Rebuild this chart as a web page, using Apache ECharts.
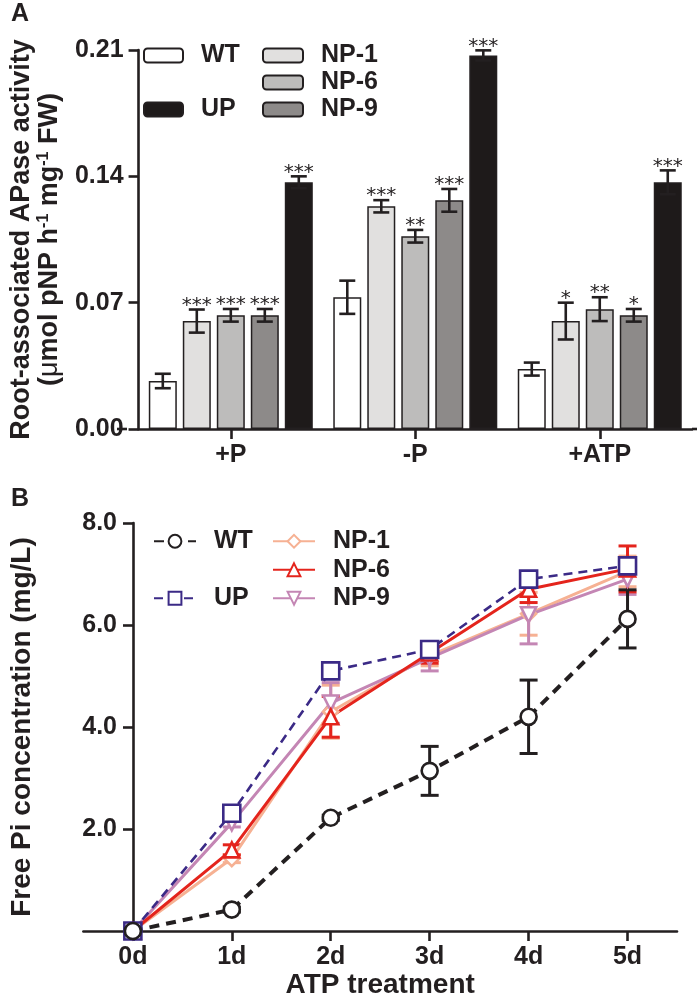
<!DOCTYPE html>
<html><head><meta charset="utf-8">
<script src="https://cdn.jsdelivr.net/npm/echarts@6.0.0/dist/echarts.min.js"></script>
<style>html,body{margin:0;padding:0;background:#fff;}#c{width:700px;height:1001px;}</style>
</head><body><div id="c"></div>
<script>
// ---------- Panel A data ----------
const catsA = ['+P', '-P', '+ATP'];
const wtA   = [0.0266, 0.0730, 0.0332];
const wtAErr = [0.0040, 0.0092, 0.0036];
const np1A  = [0.0598, 0.1234, 0.0598];
const np1AErr = [0.0064, 0.0034, 0.0102];
const np6A  = [0.0630, 0.1068, 0.0664];
const np6AErr = [0.0035, 0.0035, 0.0066];
const np9A  = [0.0630, 0.1267, 0.0630];
const np9AErr = [0.0035, 0.0063, 0.0035];
const upA   = [0.1367, 0.2070, 0.1367];
const upAErr = [0.0033, 0.0028, 0.0066];
const starsNp1 = ['***', '***', '*'];
const starsNp6 = ['***', '**', '**'];
const starsNp9 = ['***', '***', '*'];
const starsUp  = ['***', '***', '***'];

// ---------- Panel B data ----------
const daysB = ['0d', '1d', '2d', '3d', '4d', '5d'];
const wtB   = [0, 0.42, 2.22, 3.14, 4.20, 6.12];
const wtBErr = [0, 0.05, 0.05, 0.48, 0.72, 0.57];
const upB   = [0, 2.31, 5.10, 5.52, 6.90, 7.16];
const upBErr = [0, 0.05, 0.10, 0.10, 0.10, 0.10];
const np1B  = [0, 1.42, 4.30, 5.40, 6.22, 7.05];
const np1BErr = [0, 0.08, 0.52, 0.20, 0.42, 0.30];
const np6B  = [0, 1.59, 4.20, 5.45, 6.70, 7.10];
const np6BErr = [0, 0.10, 0.40, 0.20, 0.26, 0.45];
const np9B  = [0, 2.12, 4.47, 5.35, 6.20, 6.90];
const np9BErr = [0, 0.08, 0.40, 0.25, 0.57, 0.30];

// ---------- layout / style ----------
const FONT = 'Liberation Sans, Arial, sans-serif';
const INK = '#231F20';
const gridA = {left: 127, top: 50, width: 565, height: 379};
const gridB = {left: 82, top: 523, width: 595, height: 408};
const BAR_W = 28, BAR_STEP = 34;

const chart = echarts.init(document.getElementById('c'), null, {renderer: 'canvas'});

function barSeries(name, data, color) {
  return {
    type: 'bar', name, data, xAxisIndex: 0, yAxisIndex: 0,
    barWidth: BAR_W, barGap: ((BAR_STEP - BAR_W) / BAR_W * 100) + '%',
    itemStyle: {color, borderColor: INK, borderWidth: 1.5},
    z: 2, animation: false
  };
}
function barErr(k, vals, errs, stars) {
  return {
    type: 'custom', xAxisIndex: 0, yAxisIndex: 0, z: 3, animation: false,
    encode: {x: 0, y: 1},
    data: vals.map((v, i) => [i, v, errs[i]]),
    renderItem: (params, api) => {
      const ci = api.value(0), v = api.value(1), e = api.value(2);
      const st = stars ? stars[params.dataIndex] : '';
      const c = api.coord([ci, v]);
      const x = c[0] + (k - 2) * BAR_STEP;
      const yt = api.coord([ci, v + e])[1];
      const yb = api.coord([ci, v - e])[1];
      const hw = 8;
      const s = {stroke: INK, lineWidth: 2.6};
      const ch = [
        {type: 'line', shape: {x1: x, y1: yt, x2: x, y2: yb}, style: s},
        {type: 'line', shape: {x1: x - hw, y1: yt, x2: x + hw, y2: yt}, style: s},
        {type: 'line', shape: {x1: x - hw, y1: yb, x2: x + hw, y2: yb}, style: s}
      ];
      if (st) ch.push({type: 'text', style: {text: st, x: x, y: yt - 4, align: 'center', verticalAlign: 'middle',
        font: '20px "DejaVu Sans", sans-serif', fill: INK}});
      return {type: 'group', children: ch};
    }
  };
}
function lineSeries(name, data, color, symbol, size, dashed, lw, rot) {
  return {
    type: 'line', name, data, xAxisIndex: 1, yAxisIndex: 1,
    symbol, symbolSize: size, symbolRotate: rot || 0, showAllSymbol: true,
    lineStyle: {color, width: lw, type: dashed || 'solid'},
    itemStyle: {color: '#fff', borderColor: color, borderWidth: 2.6},
    z: 4, animation: false
  };
}
function lineErr(vals, errs, color, z) {
  return {
    type: 'custom', xAxisIndex: 1, yAxisIndex: 1, z: z, animation: false,
    encode: {x: 0, y: 1},
    data: vals.map((v, i) => [i, v, errs[i]]),
    renderItem: (params, api) => {
      const ci = api.value(0), v = api.value(1), e = api.value(2);
      if (!e) return {type: 'group', children: []};
      const t = api.coord([ci, v + e]), b = api.coord([ci, v - e]);
      const hw = 9, s = {stroke: color, lineWidth: 3};
      return {type: 'group', children: [
        {type: 'line', shape: {x1: t[0], y1: t[1], x2: b[0], y2: b[1]}, style: s},
        {type: 'line', shape: {x1: t[0] - hw, y1: t[1], x2: t[0] + hw, y2: t[1]}, style: s},
        {type: 'line', shape: {x1: b[0] - hw, y1: b[1], x2: b[0] + hw, y2: b[1]}, style: s}
      ]};
    }
  };
}

const C_WT = '#231F20', C_UP = '#3B2A86', C_NP1 = '#F6B193', C_NP6 = '#E4241C', C_NP9 = '#C486B4';
const labelText = {fontFamily: FONT, fontWeight: 'bold', fontSize: 25, color: INK};
const titleText = {fontFamily: FONT, fontWeight: 'bold', fontSize: 28, color: INK};
const legendBase = {orient: 'vertical', itemGap: 0, selectedMode: false,
  textStyle: Object.assign({}, labelText, {padding: [0, 0, 0, 13]})};

const option = {
  backgroundColor: '#fff',
  animation: false,
  grid: [
    Object.assign({}, gridA),
    Object.assign({}, gridB)
  ],
  xAxis: [
    {type: 'category', gridIndex: 0, data: catsA,
     axisLine: {lineStyle: {color: INK, width: 2.6}},
     axisTick: {show: true, alignWithLabel: true, length: 10, lineStyle: {color: INK, width: 2.6}},
     axisLabel: Object.assign({margin: 14, interval: 0}, labelText)},
    {type: 'category', gridIndex: 1, data: daysB, boundaryGap: true,
     name: 'ATP treatment', nameLocation: 'middle', nameGap: 40,
     nameTextStyle: titleText,
     axisLine: {lineStyle: {color: INK, width: 2.6}},
     axisTick: {show: true, alignWithLabel: true, length: 10, lineStyle: {color: INK, width: 2.6}},
     axisLabel: Object.assign({margin: 14, interval: 0}, labelText)}
  ],
  yAxis: [
    {type: 'value', gridIndex: 0, min: 0, max: 0.21, interval: 0.07,
     name: 'Root-associated APase activity\n({mu|μ}mol pNP h{sup|-1} mg{sup|-1} FW)',
     nameLocation: 'middle', nameGap: 70, nameRotate: 90,
     nameTextStyle: Object.assign({}, labelText, {fontSize: 27, lineHeight: 28,
       rich: {sup: {fontFamily: FONT, fontWeight: 'bold', fontSize: 16, verticalAlign: 'top', lineHeight: 28, color: INK},
              mu: {fontFamily: FONT, fontWeight: 'normal', fontSize: 27, lineHeight: 28, color: INK}}}),
     splitLine: {show: false},
     axisLine: {show: true, lineStyle: {color: INK, width: 2.6}},
     axisTick: {show: true, length: 10, lineStyle: {color: INK, width: 2.6}},
     axisLabel: Object.assign({margin: 15, formatter: v => v.toFixed(2)}, labelText)},
    {type: 'value', gridIndex: 1, min: 0, max: 8, interval: 2, offset: -49.6,
     name: 'Free Pi concentration (mg/L)', nameLocation: 'middle', nameGap: 97, nameRotate: 90,
     nameTextStyle: titleText,
     splitLine: {show: false},
     axisLine: {show: true, lineStyle: {color: INK, width: 2.6}},
     axisTick: {show: true, length: 10, lineStyle: {color: INK, width: 2.6}},
     axisLabel: Object.assign({margin: 16, formatter: v => v === 0 ? '' : v.toFixed(1)}, labelText)}
  ],
  legend: [
    Object.assign({}, legendBase, {left: 138, top: 37, itemWidth: 39, itemHeight: 14, itemGap: 27,
      textStyle: Object.assign({}, legendBase.textStyle, {lineHeight: 27}), data: ['WT', 'UP']}),
    Object.assign({}, legendBase, {left: 257, top: 37, itemWidth: 40, itemHeight: 14, itemGap: 0,
      textStyle: Object.assign({}, legendBase.textStyle, {lineHeight: 27}), data: ['NP-1', 'NP-6', 'NP-9']}),
    Object.assign({}, legendBase, {left: 148, top: 522, itemWidth: 42, itemHeight: 16, itemGap: 28.5,
      textStyle: Object.assign({}, legendBase.textStyle, {lineHeight: 28.5}), data: ['WT ', 'UP ']}),
    Object.assign({}, legendBase, {left: 267, top: 522, itemWidth: 42, itemHeight: 16, itemGap: 0,
      textStyle: Object.assign({}, legendBase.textStyle, {lineHeight: 28.5}), data: ['NP-1 ', 'NP-6 ', 'NP-9 ']})
  ],
  graphic: [
    {type: 'text', left: 11, top: 2, style: {text: 'A', font: 'bold 25px ' + FONT, fill: INK}},
    {type: 'text', left: 11, top: 487, style: {text: 'B', font: 'bold 25px ' + FONT, fill: INK}},
    {type: 'line', shape: {x1: gridA.left - 10, y1: gridA.top + gridA.height, x2: gridA.left, y2: gridA.top + gridA.height},
     style: {stroke: INK, lineWidth: 2.6}},
    {type: 'line', shape: {x1: gridA.left + gridA.width, y1: gridA.top + gridA.height, x2: gridA.left + gridA.width + 5, y2: gridA.top + gridA.height},
     style: {stroke: INK, lineWidth: 2.6}}
  ],
  series: [
    barSeries('WT', wtA, '#FFFFFF'),
    barSeries('NP-1', np1A, '#E1E0DF'),
    barSeries('NP-6', np6A, '#BDBCBB'),
    barSeries('NP-9', np9A, '#8D8A89'),
    barSeries('UP', upA, '#1E1A1A'),
    barErr(0, wtA, wtAErr, null),
    barErr(1, np1A, np1AErr, starsNp1),
    barErr(2, np6A, np6AErr, starsNp6),
    barErr(3, np9A, np9AErr, starsNp9),
    barErr(4, upA, upAErr, starsUp),

    lineErr(np1B, np1BErr, C_NP1, 3),
    lineSeries('NP-1 ', np1B, C_NP1, 'diamond', 15, null, 3),
    lineErr(np9B, np9BErr, C_NP9, 3),
    lineSeries('NP-9 ', np9B, C_NP9, 'triangle', 15, null, 3, 180),
    lineErr(np6B, np6BErr, C_NP6, 3),
    lineSeries('NP-6 ', np6B, C_NP6, 'triangle', 15, null, 3),
    lineErr(upB, upBErr, C_UP, 3),
    lineSeries('UP ', upB, C_UP, 'rect', 17, [9, 6], 2.6),
    lineErr(wtB, wtBErr, C_WT, 3),
    lineSeries('WT ', wtB, C_WT, 'circle', 16, [10, 7], 4)
  ]
};
chart.setOption(option);
</script>
</body></html>
